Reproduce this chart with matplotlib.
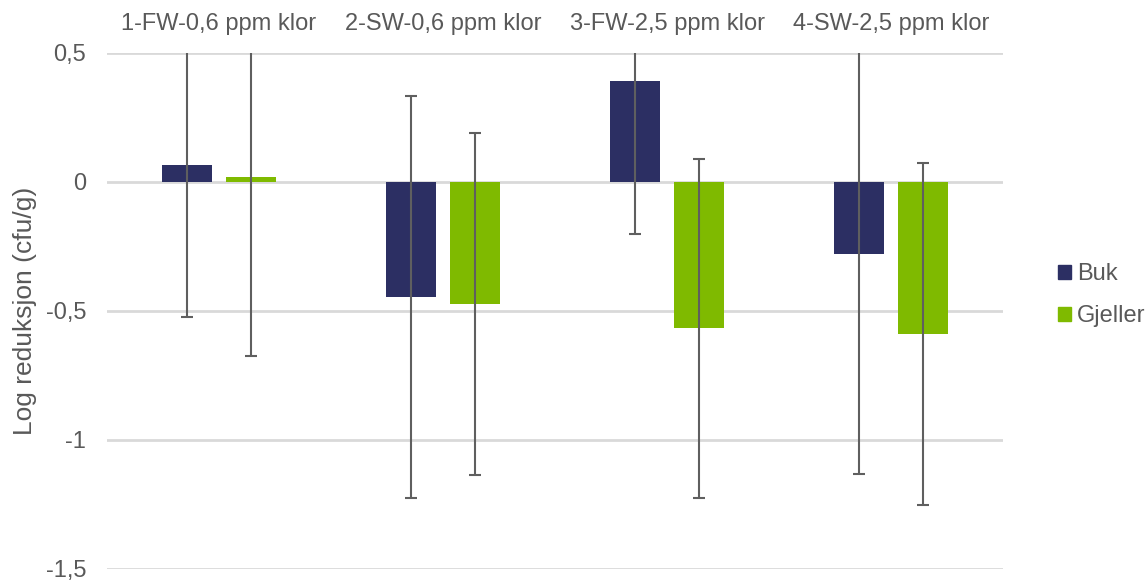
import numpy as np
import matplotlib.pyplot as plt
from matplotlib.patches import Patch

plt.rcParams['font.family'] = ['Liberation Sans', 'DejaVu Sans']

# Log reduction per treatment, with standard deviation
categories = ['1-FW-0,6 ppm klor', '2-SW-0,6 ppm klor',
              '3-FW-2,5 ppm klor', '4-SW-2,5 ppm klor']
buk = [0.066, -0.446, 0.391, -0.279]
buk_sd = [0.589, 0.780, 0.593, 0.853]
gjeller = [0.020, -0.473, -0.566, -0.589]
gjeller_sd = [0.694, 0.663, 0.657, 0.662]
yticks = [-1.5, -1.0, -0.5, 0.0, 0.5]
ytick_labels = ['-1,5', '-1', '-0,5', '0', '0,5']

navy = '#2C2F63'
green = '#7FBA00'
grey_text = '#595959'
err_color = '#5F5F5F'

fig = plt.figure(figsize=(11.48, 5.81), dpi=100)
ax = fig.add_axes([107 / 1148, 1 - 569 / 581, 896 / 1148, 516 / 581])

x = np.arange(len(categories))
w = 0.22
off = 0.143
err_kw = dict(ecolor=err_color, elinewidth=1.5, capsize=4.5, capthick=1.5)
ax.bar(x - off, buk, w, color=navy, yerr=buk_sd, error_kw=err_kw, zorder=3)
ax.bar(x + off, gjeller, w, color=green, yerr=gjeller_sd, error_kw=err_kw, zorder=3)

ax.set_xlim(-0.5, 3.5)
ax.set_ylim(-1.5, 0.5)
ax.set_yticks(yticks)
ax.set_yticklabels(ytick_labels)
ax.yaxis.grid(True, color='#D9D9D9', linewidth=2)
ax.set_axisbelow(True)

ax.xaxis.tick_top()
ax.set_xticks(x)
ax.set_xticklabels(categories)
ax.tick_params(axis='both', length=0, labelsize=17, labelcolor=grey_text)
ax.tick_params(axis='x', pad=13)
ax.tick_params(axis='y', pad=15)
for s in ax.spines.values():
    s.set_visible(False)

ax.set_ylabel('Log reduksjon (cfu/g)', fontsize=19, color=grey_text)
ax.yaxis.set_label_coords(-0.078, 0.5)

handles = [Patch(color=navy, label='Buk'), Patch(color=green, label='Gjeller')]
fig.legend(handles=handles, loc='center left', bbox_to_anchor=(1058 / 1148, 1 - 295 / 581),
           frameon=False, fontsize=17, labelcolor=grey_text,
           handlelength=0.55, handleheight=0.55, handletextpad=0.25,
           labelspacing=0.85, borderaxespad=0, borderpad=0)

fig.savefig('out.png', dpi=100)
